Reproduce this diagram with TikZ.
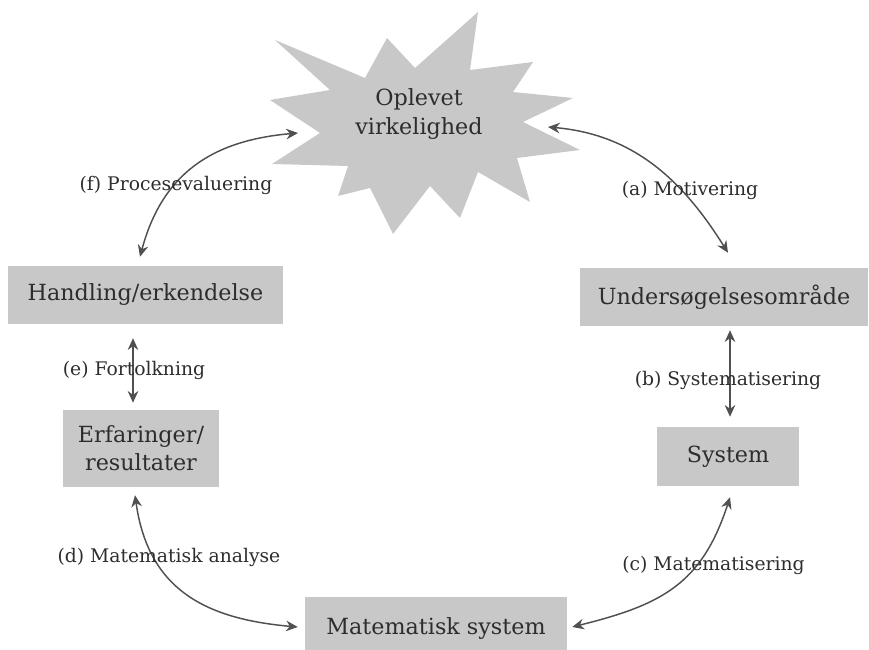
\documentclass[tikz,border=0pt]{standalone}
\usepackage{fontspec}
\setmainfont{DejaVu Serif}
\usetikzlibrary{arrows.meta}
\definecolor{boxgray}{RGB}{200,200,200}
\definecolor{inkgray}{RGB}{45,45,45}
\definecolor{linegray}{RGB}{80,80,80}

\begin{document}
\begin{tikzpicture}[x=0.03cm, y=0.03cm,
    box/.style={fill=boxgray, inner sep=0pt, align=center, text=inkgray, font=\fontsize{19}{24}\selectfont},
    lbl/.style={text=inkgray, inner sep=0pt, font=\fontsize{16}{19}\selectfont},
    link/.style={draw=linegray, line width=1.25pt, {Stealth[length=10pt,width=9pt]}-{Stealth[length=10pt,width=9pt]}}]
    \useasboundingbox (0,0) rectangle (869,650);

    % Star for the experienced reality
    \fill[boxgray] (275,610) -- (365,572) -- (387,612) -- (415,582) -- (478,638) -- (470,580)
        -- (533,588) -- (513,558) -- (573,552) -- (523,528) -- (580,500) -- (517,492)
        -- (530,448) -- (478,478) -- (460,432) -- (430,464) -- (393,416) -- (370,462)
        -- (338,454) -- (348,484) -- (272,486) -- (320,517) -- (270,550) -- (330,560) -- cycle;
    \node[align=center, text=inkgray, font=\fontsize{19}{24}\selectfont] (real) at (419,536) {Oplevet\\virkelighed};
    \coordinate (realW) at (298,517);
    \coordinate (realE) at (548,523);

    % Boxes
    \node[box, minimum width=8.25cm, minimum height=1.74cm] (hand) at (145.5,355) {Handling/erkendelse};
    \node[box, minimum width=8.64cm, minimum height=1.74cm] (unders) at (724,353) {Undersøgelsesområde};
    \node[box, minimum width=4.68cm, minimum height=2.31cm] (erf) at (141,201.5) {Erfaringer/\\resultater};
    \node[box, minimum width=4.26cm, minimum height=1.77cm] (sys) at (728,193.5) {System};
    \node[box, minimum width=7.86cm, minimum height=1.59cm, text height=0.8cm] (mat) at (436,26.5) {Matematisk system};

    % Connectors
    \draw[link] ([xshift=-0.165cm, yshift=0.27cm]hand.north) to[out=75, in=185, looseness=1.1] (realW);
    \draw[link] (realE) to[out=-5, in=122] ([xshift=0.12cm, yshift=0.45cm]unders.north);
    \draw[link] ([xshift=-0.375cm, yshift=-0.42cm]hand.south) -- ([xshift=-0.24cm, yshift=0.21cm]erf.north);
    \draw[link] ([xshift=0.18cm, yshift=-0.12cm]unders.south) -- ([xshift=0.06cm, yshift=0.3cm]sys.north);
    \draw[link] ([xshift=-0.18cm, yshift=-0.24cm]erf.south) to[out=-82, in=175, looseness=1.15] ([xshift=-0.21cm, yshift=-0.105cm]mat.west);
    \draw[link] ([xshift=0.15cm, yshift=-0.105cm]mat.east) to[out=14, in=-108, looseness=1.15] ([xshift=0.06cm, yshift=-0.33cm]sys.south);

    % Labels
    \node[lbl] (labf) at (176,465) {(f) Procesevaluering};
    \node[lbl] (laba) at (690,460) {(a) Motivering};
    \node[lbl] (labe) at (134,280) {(e) Fortolkning};
    \node[lbl] (labb) at (728,270) {(b) Systematisering};
    \node[lbl] (labd) at (169,93) {(d) Matematisk analyse};
    \node[lbl] (labc) at (713.5,85) {(c) Matematisering};
\end{tikzpicture}
\end{document}
